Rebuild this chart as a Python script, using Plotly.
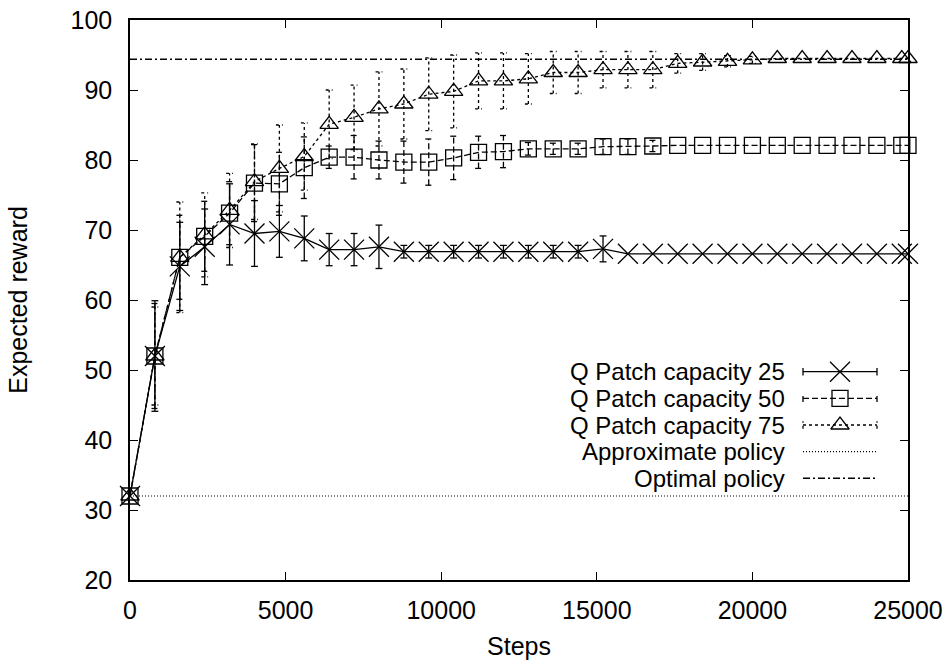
import plotly.graph_objects as go

# ---------------- data ----------------
steps = [0, 800, 1600, 2400, 3200, 4000, 4800, 5600, 6400, 7200, 8000,
         8800, 9600, 10400, 11200, 12000, 12800, 13600, 14400, 15200, 16000,
         16800, 17600, 18400, 19200, 20000, 20800, 21600, 22400, 23200, 24000,
         24800, 25000]

reward_q25 = [32.0, 52.0, 64.8, 67.6, 70.8, 69.5, 69.8, 68.8, 67.2, 67.2, 67.6,
              66.9, 66.9, 66.9, 66.9, 66.9, 66.9, 66.9, 66.9, 67.3, 66.6,
              66.6, 66.6, 66.6, 66.6, 66.6, 66.6, 66.6, 66.6, 66.6, 66.6,
              66.6, 66.6]
err_q25 = [0.0, 7.9, 6.3, 5.4, 5.8, 4.7, 3.7, 3.2, 2.3, 2.3, 3.1,
           0.9, 0.9, 0.9, 0.9, 0.9, 0.9, 0.9, 0.9, 1.85, 0.0,
           0.0, 0.0, 0.0, 0.0, 0.0, 0.0, 0.0, 0.0, 0.0, 0.0,
           0.0, 0.0]

reward_q50 = [32.0, 52.0, 66.1, 69.1, 72.4, 76.7, 76.6, 78.9, 80.4, 80.4, 80.0,
              79.7, 79.7, 80.3, 81.1, 81.2, 81.6, 81.6, 81.6, 81.9, 81.9,
              82.0, 82.1, 82.1, 82.1, 82.1, 82.1, 82.1, 82.1, 82.1, 82.1,
              82.1, 82.1]
err_q50 = [0.0, 7.5, 6.0, 5.0, 4.5, 5.5, 4.5, 4.4, 1.6, 3.1, 2.7,
           3.0, 3.3, 3.1, 2.3, 2.3, 0.9, 0.8, 0.8, 1.1, 1.1,
           0.8, 0.0, 0.0, 0.0, 0.0, 0.0, 0.0, 0.0, 0.0, 0.0,
           0.0, 0.0]

reward_q75 = [32.0, 52.0, 66.1, 69.3, 72.8, 76.9, 78.8, 80.5, 85.1, 86.1, 87.3,
              88.0, 89.4, 89.8, 91.3, 91.3, 91.6, 92.5, 92.5, 92.9, 92.9,
              92.9, 93.8, 94.0, 94.1, 94.3, 94.5, 94.5, 94.5, 94.5, 94.5,
              94.5, 94.5]
err_q75 = [0.0, 7.0, 7.9, 6.0, 5.3, 5.4, 6.2, 4.8, 4.9, 4.6, 5.3,
           5.0, 5.2, 5.2, 4.0, 4.0, 3.6, 3.0, 3.0, 2.6, 2.6,
           2.6, 1.4, 1.2, 0.8, 0.5, 0.0, 0.0, 0.0, 0.0, 0.0,
           0.0, 0.0]

approx_policy = 32.0
optimal_policy = 94.4

series_names = ["Q Patch capacity 25", "Q Patch capacity 50",
                "Q Patch capacity 75", "Approximate policy", "Optimal policy"]
x_ticks = [0, 5000, 10000, 15000, 20000, 25000]
y_ticks = [20, 30, 40, 50, 60, 70, 80, 90, 100]
x_range = [0, 25000]
y_range = [20, 100]

# ---------------- styles ----------------
FONT = "Liberation Sans, Arial, Helvetica, sans-serif"
FS = 25
KEY_FS = 24
LW = 1.3
CAP = 110  # half width of error-bar caps, in step units

styles = [
    dict(dash="solid", symbol="x-thin-open", size=20),
    dict(dash="6px,3px", symbol="square-open", size=16),
    dict(dash="3px,3px", symbol="triangle-up-open", size=16),
]
approx_dash = "1px,2px"
optimal_dash = "7px,3px,2px,3px"


def errbar_xy(xs, ms, es, cap):
    ex, ey = [], []
    for x, m, e in zip(xs, ms, es):
        if e <= 0:
            continue
        ex += [x, x, None, x - cap, x + cap, None, x - cap, x + cap, None]
        ey += [m - e, m + e, None, m - e, m - e, None, m + e, m + e, None]
    return ex, ey


fig = go.Figure()

series = [(reward_q25, err_q25), (reward_q50, err_q50), (reward_q75, err_q75)]
for (vals, errs), st in zip(series, styles):
    ex, ey = errbar_xy(steps, vals, errs, CAP)
    fig.add_trace(go.Scatter(x=ex, y=ey, mode="lines",
                             line=dict(color="black", width=LW, dash=st["dash"]),
                             hoverinfo="skip", showlegend=False))
    fig.add_trace(go.Scatter(x=steps, y=vals, mode="lines+markers",
                             line=dict(color="black", width=LW, dash=st["dash"]),
                             marker=dict(symbol=st["symbol"], size=st["size"],
                                         color="black",
                                         line=dict(color="black", width=LW)),
                             cliponaxis=False, showlegend=False))

fig.add_trace(go.Scatter(x=x_range, y=[approx_policy, approx_policy], mode="lines",
                         line=dict(color="black", width=1.2, dash=approx_dash),
                         showlegend=False))
fig.add_trace(go.Scatter(x=x_range, y=[optimal_policy, optimal_policy], mode="lines",
                         line=dict(color="black", width=1.5, dash=optimal_dash),
                         showlegend=False))

# ---------------- gnuplot-style key (text left, sample right) ----------------
L, R, T, B = 130, 908, 20, 580
W, H = R - L, B - T
def fx(px):
    return (px - L) / W
def fy(py):
    return (B - py) / H

row_py = [371.7, 398.3, 425.0, 451.7, 478.3]
sx0, sx1, sxm = fx(803), fx(877), fx(840)
capf = 3.7 / H
line_dashes = [styles[0]["dash"], styles[1]["dash"], styles[2]["dash"],
               approx_dash, optimal_dash]
line_widths = [LW, LW, LW, 1.2, 1.5]

for i, name in enumerate(series_names):
    y0 = fy(row_py[i])
    fig.add_annotation(text=name, xref="paper", yref="paper", x=fx(787), y=y0,
                       xanchor="right", yanchor="middle", showarrow=False,
                       font=dict(family=FONT, size=KEY_FS, color="black"))
    fig.add_trace(go.Scatter(x=[sx0, sx1], y=[y0, y0], mode="lines",
                             xaxis="x2", yaxis="y2",
                             line=dict(color="black", width=line_widths[i], dash=line_dashes[i]),
                             hoverinfo="skip", showlegend=False))
    if i < 3:
        fig.add_trace(go.Scatter(x=[sx0, sx0, None, sx1, sx1],
                                 y=[y0 - capf, y0 + capf, None, y0 - capf, y0 + capf],
                                 mode="lines", xaxis="x2", yaxis="y2",
                                 line=dict(color="black", width=LW, dash=line_dashes[i]),
                                 hoverinfo="skip", showlegend=False))
        fig.add_trace(go.Scatter(x=[sxm], y=[y0], mode="markers",
                                 xaxis="x2", yaxis="y2",
                                 marker=dict(symbol=styles[i]["symbol"], size=styles[i]["size"],
                                             color="black", line=dict(color="black", width=LW)),
                                 hoverinfo="skip", showlegend=False))

axis_common = dict(showline=True, linecolor="black", linewidth=1.5, mirror="ticks",
                   ticks="inside", ticklen=8, tickwidth=1, tickcolor="black",
                   showgrid=False, zeroline=False, automargin=False,
                   tickfont=dict(family=FONT, size=FS, color="black"))

fig.update_layout(
    width=952, height=666,
    margin=dict(l=L, r=952 - R, t=T, b=666 - B, autoexpand=False),
    paper_bgcolor="white", plot_bgcolor="white",
    showlegend=False,
    font=dict(family=FONT, size=FS, color="black"),
    xaxis=dict(range=x_range, tickvals=x_ticks, ticktext=[str(v) for v in x_ticks],
               title=dict(text="Steps", font=dict(family=FONT, size=FS), standoff=15),
               ticklabelstandoff=7, **axis_common),
    yaxis=dict(range=y_range, tickvals=y_ticks, ticktext=[str(v) for v in y_ticks],
               title=dict(text="Expected reward", font=dict(family=FONT, size=FS), standoff=36),
               ticklabelstandoff=11, **axis_common),
    xaxis2=dict(overlaying="x", range=[0, 1], visible=False, anchor="y"),
    yaxis2=dict(overlaying="y", range=[0, 1], visible=False, anchor="x"),
)

fig.write_html("out.html", config={"displayModeBar": False},
               post_script="document.body.style.margin='0';")
